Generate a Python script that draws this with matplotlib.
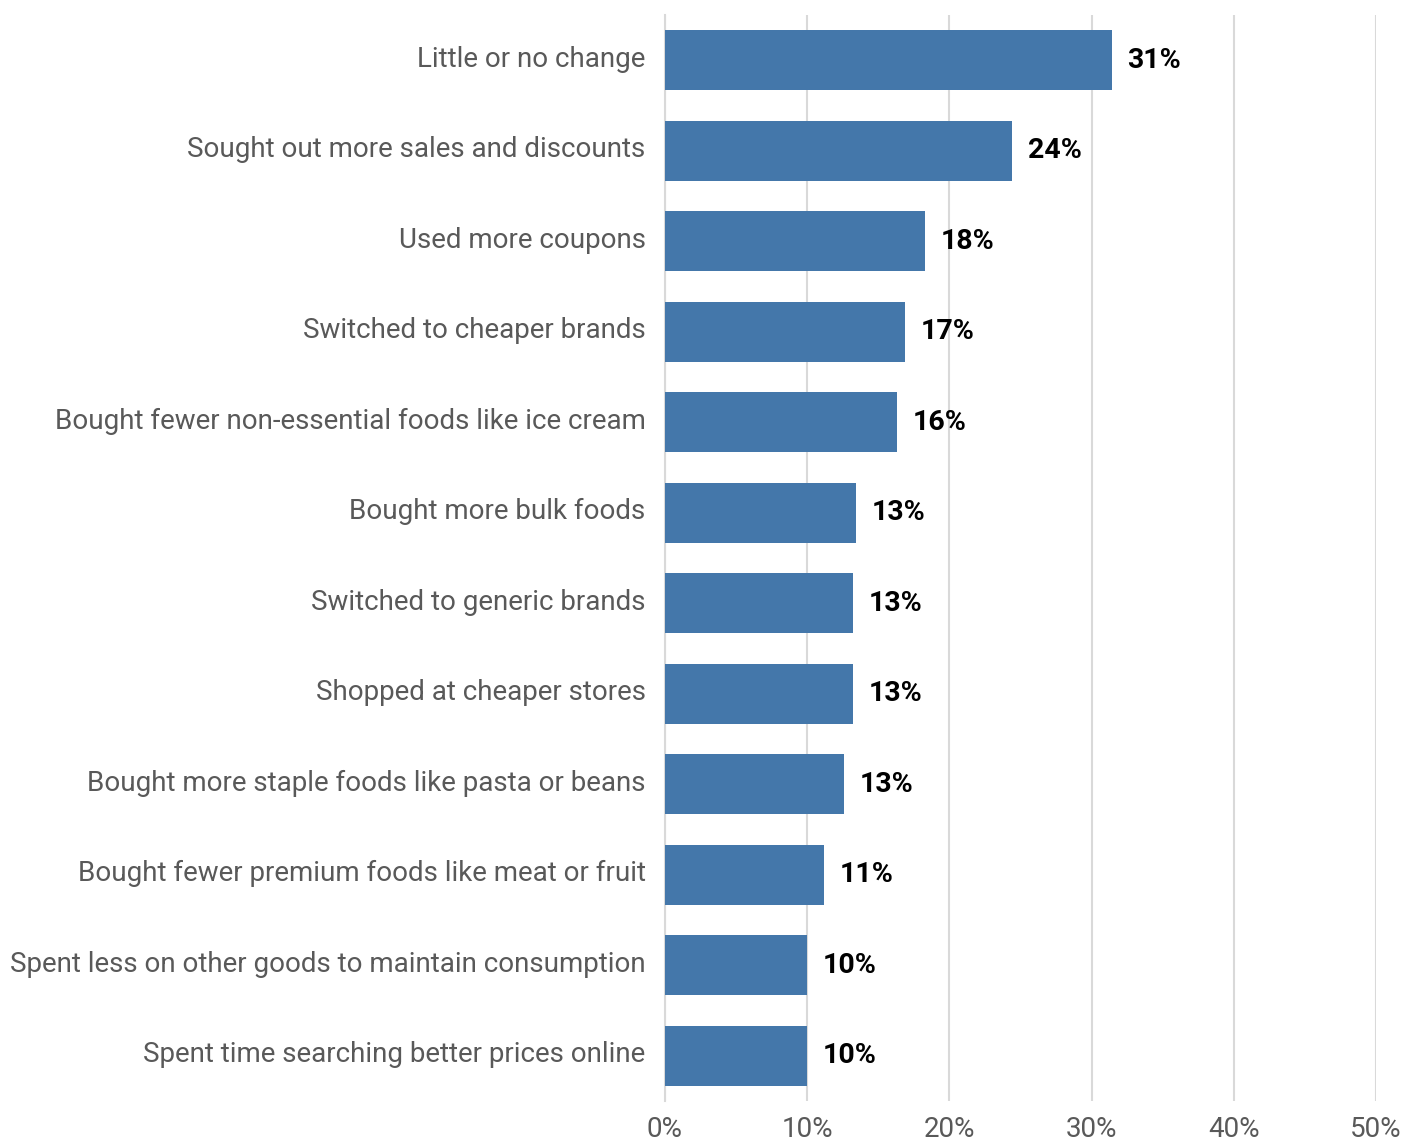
import matplotlib
matplotlib.use("Agg")
import matplotlib.pyplot as plt
import matplotlib.transforms as mtransforms

plt.rcParams['font.family'] = ['Roboto', 'DejaVu Sans']

categories = [
    "Little or no change",
    "Sought out more sales and discounts",
    "Used more coupons",
    "Switched to cheaper brands",
    "Bought fewer non-essential foods like ice cream",
    "Bought more bulk foods",
    "Switched to generic brands",
    "Shopped at cheaper stores",
    "Bought more staple foods like pasta or beans",
    "Bought fewer premium foods like meat or fruit",
    "Spent less on other goods to maintain consumption",
    "Spent time searching better prices online",
]
values = [31.4, 24.4, 18.3, 16.9, 16.3, 13.4, 13.2, 13.2, 12.6, 11.2, 10.0, 10.0]
xticks = [0, 10, 20, 30, 40, 50]

bar_color = "#4477AA"
text_gray = "#595959"

fig = plt.figure(figsize=(14.2, 11.42), dpi=100)
ax = fig.add_axes([665 / 1420, 1 - 1101 / 1142, (1376 - 665) / 1420, (1101 - 15) / 1142])

y = list(range(len(categories)))
ax.barh(y, values, height=0.66, color=bar_color, zorder=3)
ax.set_ylim(len(categories) - 0.5, -0.5)
ax.set_xlim(0, 50)

for yi, v in zip(y, values):
    ax.text(v + 1.1, yi, f"{v:.0f}%", va="center", ha="left",
            fontsize=20.5, fontweight="bold", color="black")

ax.set_yticks(y)
ax.set_yticklabels(categories, fontsize=20, color=text_gray)
ax.set_xticks(xticks)
ax.set_xticklabels([f"{t}%" for t in xticks], fontsize=20, color=text_gray)
ax.tick_params(axis="both", length=0)
ax.tick_params(axis="y", pad=14)
ax.tick_params(axis="x", pad=11)

# nudge category labels slightly upward
lift = mtransforms.ScaledTranslation(0, 3 / 72, fig.dpi_scale_trans)
for lbl in ax.get_yticklabels():
    lbl.set_transform(lbl.get_transform() + lift)

ax.grid(axis="x", color="#d9d9d9", linewidth=1.5, zorder=0)
for s in ["top", "right", "bottom"]:
    ax.spines[s].set_visible(False)
ax.spines["left"].set_color("#d9d9d9")
ax.spines["left"].set_linewidth(1.5)
ax.set_axisbelow(True)

fig.savefig("out.png", dpi=100)
